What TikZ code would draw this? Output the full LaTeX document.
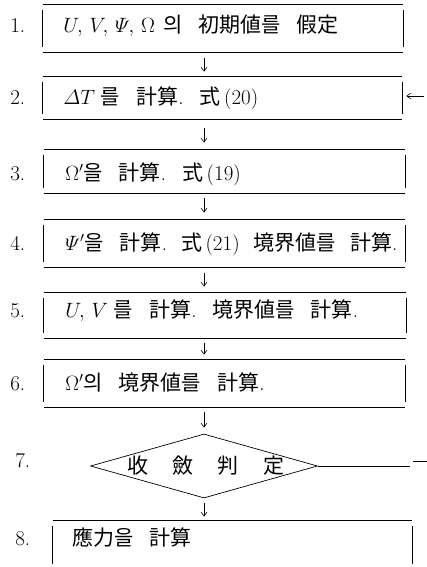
\documentclass[tikz,border=0pt]{standalone}
\usepackage{amsmath}
\usepackage{fontspec}
\newfontfamily\kr{Noto Sans CJK KR}
\usetikzlibrary{shapes.geometric,arrows.meta}
\newcommand{\K}[1]{{\kr #1}}
\newcommand{\G}{\hspace{16pt}}
\begin{document}
\begin{tikzpicture}[x=1pt,y=-1pt,
  font=\fontsize{21}{25}\selectfont,
  line width=0.7pt,
  boxshape/.style={draw=none, rectangle, inner sep=0pt},
  txt/.style={anchor=base west, inner sep=0pt},
  arr/.style={-{Straight Barb[length=4pt,width=6pt]}, line width=0.6pt},
  lbl/.style={anchor=base west, inner sep=0pt}]
\useasboundingbox (0,0) rectangle (427,567);
\fill[white] (0,0) rectangle (427,567);

% boxes
\node[boxshape, minimum width=360pt, minimum height=47pt] (b1) at (223,28.5) {};
\node[boxshape, minimum width=359pt, minimum height=42pt] (b2) at (222.5,98) {};
\node[boxshape, minimum width=361pt, minimum height=43pt] (b3) at (224.5,171.5) {};
\node[boxshape, minimum width=361pt, minimum height=47pt] (b4) at (224.5,243.5) {};
\node[boxshape, minimum width=362pt, minimum height=45pt] (b5) at (225,315.5) {};
\node[boxshape, minimum width=361pt, minimum height=47pt] (b6) at (224.5,383.5) {};
\node[boxshape, minimum width=359pt, minimum height=48pt] (b8) at (232.5,545) {};
\foreach \n in {b1,b2,b3,b4,b5,b6,b8}{
  \draw (\n.north west) -- (\n.north east) (\n.south west) -- (\n.south east);
  \draw ([yshift=-5pt]\n.north west) -- ([yshift=5pt]\n.south west)
        ([yshift=-5pt]\n.north east) -- ([yshift=5pt]\n.south east);
}

% diamond
\node[diamond, draw, aspect=3.5, inner sep=-3pt, minimum width=227pt, minimum height=64pt] (d7) at (204,466)
  {\hspace{4pt}\K{收}\hspace{25pt}\K{斂}\hspace{24pt}\K{判}\hspace{25pt}\K{定}};

% texts
\node[txt] (t1) at (63,33) {$U,\,V,\,\varPsi,\,\Omega$\hspace{8pt}\K{의}\G\K{初期値를}\G\K{假定}};
\node[txt] (t2) at (63,105) {$\varDelta T$\hspace{6pt}\K{를}\G\K{計算}.\G\K{式}\,(20)};
\node[txt] (t3) at (65,180) {$\Omega'$\K{을}\G\K{計算}.\G\K{式}\,(19)};
\node[txt] (t4) at (65,250) {$\varPsi'$\K{을}\G\K{計算}.\hspace{14pt}\K{式}\,(21)\hspace{14pt}\K{境界値를}\hspace{14pt}\K{計算}.};
\node[txt] (t5) at (65,317) {$U,\,V$\hspace{6pt}\K{를}\G\K{計算}.\G\K{境界値를}\G\K{計算}.};
\node[txt] (t6) at (65,390) {$\Omega'$\K{의}\G\K{境界値를}\G\K{計算}.};
\node[txt] (t8) at (72,545) {\K{應力을}\G\K{計算}};

% step numbers
\node[lbl] (n1) at (10,33) {1.};
\node[lbl] (n2) at (10,105) {2.};
\node[lbl] (n3) at (10,180) {3.};
\node[lbl] (n4) at (10,250) {4.};
\node[lbl] (n5) at (10,317) {5.};
\node[lbl] (n6) at (10,390) {6.};
\node[lbl] (n7) at (15,467) {7.};
\node[lbl] (n8) at (15,545) {8.};

% arrows
\draw[arr, shorten <=6pt, shorten >=5pt] (b1.south -| d7.center) -- (b2.north -| d7.center);
\draw[arr, shorten <=9pt, shorten >=7pt] (b2.south -| d7.center) -- (b3.north -| d7.center);
\draw[arr, shorten <=5pt, shorten >=7pt] (b3.south -| d7.center) -- (b4.north -| d7.center);
\draw[arr, shorten <=6pt, shorten >=6pt] (b4.south -| d7.center) -- (b5.north -| d7.center);
\draw[arr, shorten <=5pt, shorten >=5pt] (b5.south -| d7.center) -- (b6.north -| d7.center);
\draw[arr, shorten <=5pt, shorten >=6pt] (b6.south -| d7.center) -- (d7.north);
\draw[arr, shorten <=5pt, shorten >=4pt] (d7.south) -- (b8.north -| d7.center);

% feedback
\coordinate (fb) at (424,96);
\draw[arr, shorten >=4pt] (fb) -- (fb -| b2.east);
\coordinate (r1) at (410,466);
\draw (d7.east) -- (r1);
\coordinate (r2) at (413,461);
\coordinate (r3) at (427,461);
\draw (r2) -- (r3);
\end{tikzpicture}
\end{document}
